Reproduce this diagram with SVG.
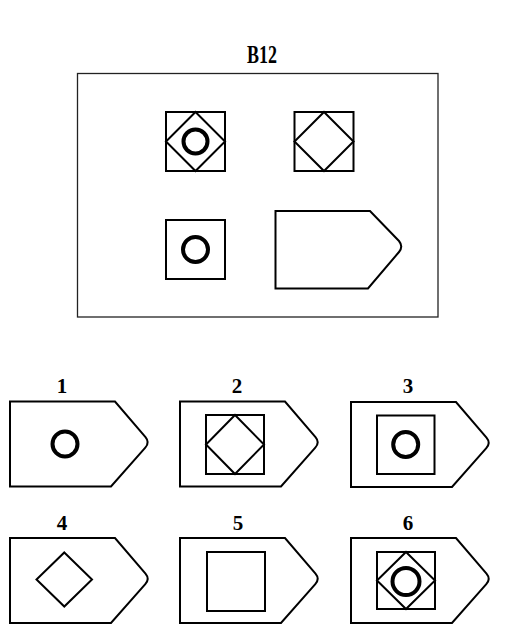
<svg xmlns="http://www.w3.org/2000/svg" width="513" height="627" viewBox="0 0 513 627">
<style>
.ln{fill:none;stroke:#000;stroke-width:2;stroke-linejoin:miter}
.sh{fill:#fff;stroke:#000;stroke-width:2;stroke-linejoin:miter}
.ring{fill:none;stroke:#000;stroke-width:4}
.lbl{font-family:"Liberation Serif",serif;font-weight:bold;font-size:21px;text-anchor:middle;fill:#000}
</style>
<defs>
<path id="tag" d="M0,0 H105 L135.5,35.7 Q140,41 135.3,46.2 L101,85 H0 Z"/>
</defs>
<rect width="513" height="627" fill="#fff"/>
<text x="262" y="62.5" font-family="Liberation Serif, serif" font-weight="bold" font-size="26" text-anchor="middle" textLength="30" lengthAdjust="spacingAndGlyphs">B12</text>
<g id="matrix">
<rect x="77.5" y="73.5" width="360.5" height="243.5" fill="none" stroke="#222" stroke-width="1.3"/>
<g id="cell1">
<rect class="ln" x="166" y="112" width="59" height="59"/>
<path class="ln" d="M195.5,112 L225,141.5 L195.5,171 L166,141.5 Z"/>
<circle class="ring" cx="195.5" cy="141.5" r="12"/>
</g>
<g id="cell2">
<rect class="ln" x="294.5" y="112" width="59" height="59"/>
<path class="ln" d="M324,112 L353.5,141.5 L324,171 L294.5,141.5 Z"/>
</g>
<g id="cell3">
<rect class="ln" x="166" y="220" width="59" height="59"/>
<circle class="ring" cx="195.5" cy="249.5" r="12.5"/>
</g>
<g id="cell4">
<path class="ln" d="M275.5,211 H370 L399,241 Q403.5,246.5 399,252 L368,288.5 H275.5 Z"/>
</g>
</g>
<g id="opt1">
<text class="lbl" x="62" y="393">1</text>
<use href="#tag" class="sh" transform="translate(10,401.5)"/>
<circle class="ring" cx="65" cy="444" r="12.5"/>
</g>
<g id="opt2">
<text class="lbl" x="237" y="393">2</text>
<use href="#tag" class="sh" transform="translate(180,401.5)"/>
<rect class="ln" x="206" y="415" width="58" height="59"/>
<path class="ln" d="M235,415 L264,444.5 L235,474 L206,444.5 Z"/>
</g>
<g id="opt3">
<text class="lbl" x="408" y="393">3</text>
<use href="#tag" class="sh" transform="translate(351,402)"/>
<rect class="ln" x="377" y="415.5" width="57.5" height="58.5"/>
<circle class="ring" cx="405.7" cy="444.5" r="12.5"/>
</g>
<g id="opt4">
<text class="lbl" x="62" y="530">4</text>
<use href="#tag" class="sh" transform="translate(10,538)"/>
<path class="ln" d="M64.3,552.5 L92,579.5 L64.3,606.5 L36.5,579.5 Z"/>
</g>
<g id="opt5">
<text class="lbl" x="238" y="530">5</text>
<use href="#tag" class="sh" transform="translate(180,538)"/>
<rect class="ln" x="207" y="552" width="58" height="59"/>
</g>
<g id="opt6">
<text class="lbl" x="408" y="530">6</text>
<use href="#tag" class="sh" transform="translate(351,538)"/>
<rect class="ln" x="377" y="552" width="58" height="57"/>
<path class="ln" d="M406,552 L435,580.5 L406,609 L377,580.5 Z"/>
<circle class="ring" cx="406" cy="581.5" r="13.5" stroke-width="4.5"/>
</g>
</svg>
